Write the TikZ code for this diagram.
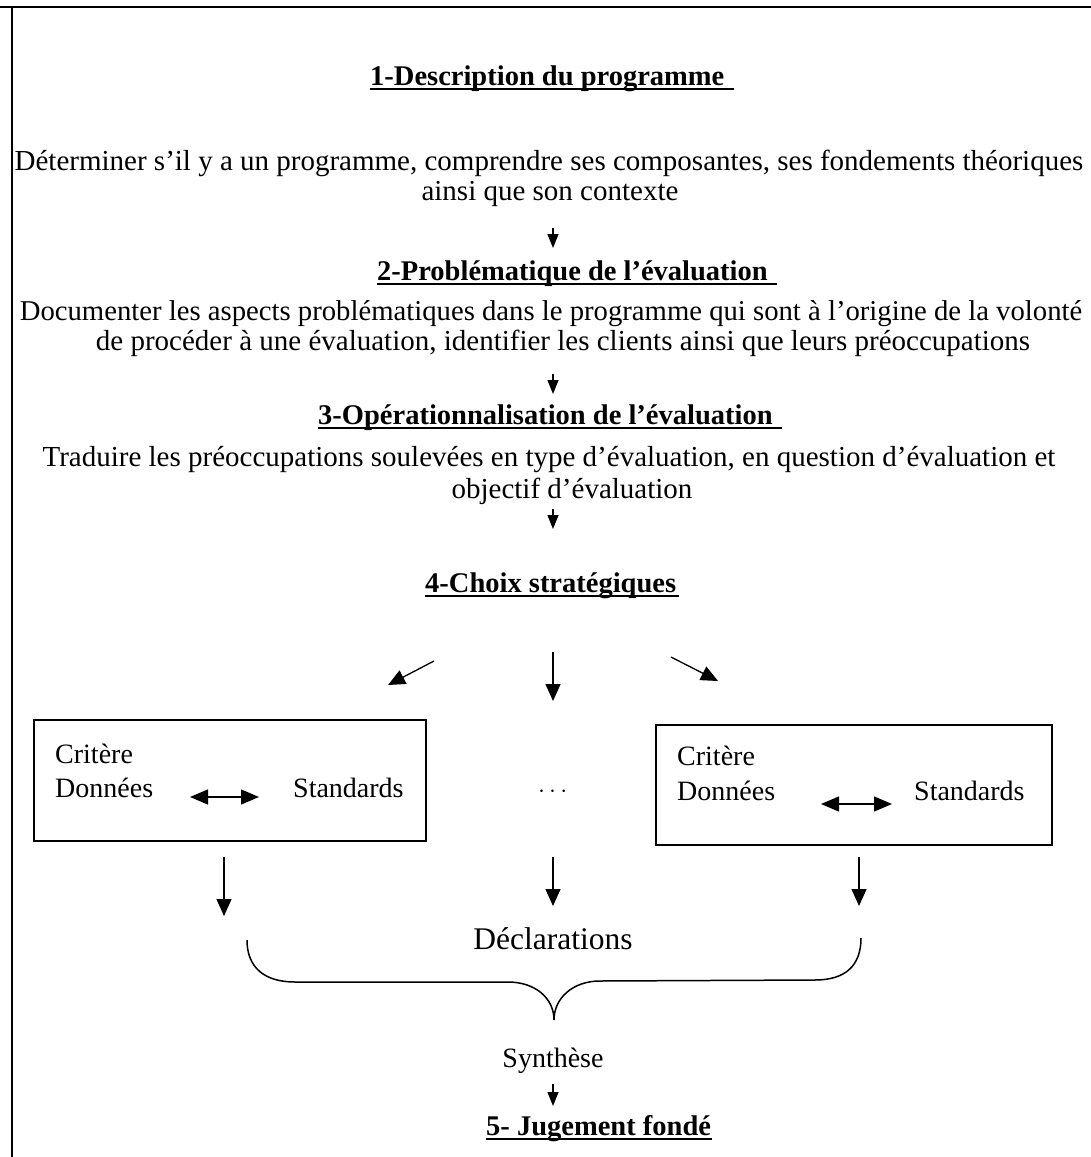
\documentclass[tikz,border=0pt]{standalone}
\usepackage{fontspec}
\setmainfont{Liberation Serif}
\usetikzlibrary{arrows.meta,calc}
\begin{document}
\begin{tikzpicture}[x=1pt,y=-1pt,
  body/.style={inner sep=0pt,anchor=base,font=\fontsize{29}{34}\selectfont},
  boxtxt/.style={inner sep=0pt,anchor=base west,font=\fontsize{28}{32}\selectfont},
  big/.style={inner sep=0pt,anchor=base,font=\fontsize{31.5}{36}\selectfont},
  ttl/.style={inner sep=0pt,anchor=base west,font=\fontsize{28.5}{32}\selectfont\bfseries},
  ul/.style={line width=2.6pt},
  sarr/.style={line width=1.3pt,-{Triangle[width=11pt,length=14pt]}},
  arr/.style={line width=1.3pt,-{Triangle[width=15pt,length=17pt]}},
  darr/.style={line width=1.4pt,{Triangle[width=15pt,length=18pt]}-{Triangle[width=15pt,length=18pt]}},
  frame/.style={line width=1.5pt},
  cbox/.style={draw,line width=1.8pt,inner sep=0pt,anchor=north west}]
\useasboundingbox (0,0) rectangle (1091,1157);
% frame
\draw[frame] (0,7) -- (1091,7);
\draw[frame] (12,7) -- (12,1157);

% 1
\node[ttl] (t1) at (370,85) {1-Description du programme};
\draw[ul] ($(t1.base west)+(0,4)$) -- ($(t1.base east)+(9,4)$);
\node[body] (p1a) at (549,170) {Déterminer s’il y a un programme, comprendre ses composantes, ses fondements théoriques};
\node[body] (p1b) at (550,200) {ainsi que son contexte};
\coordinate (a1s) at (553,228);
\coordinate (a1e) at (553,248);
\draw[sarr] (a1s) -- (a1e);

% 2
\node[ttl] (t2) at (377,280) {2-Problématique de l’évaluation};
\draw[ul] ($(t2.base west)+(0,4)$) -- ($(t2.base east)+(9,4)$);
\node[body,font=\fontsize{28.7}{34}\selectfont] (p2a) at (551,320) {Documenter les aspects problématiques dans le programme qui sont à l’origine de la volonté};
\node[body] (p2b) at (563,350) {de procéder à une évaluation, identifier les clients ainsi que leurs préoccupations};
\coordinate (a2s) at (553,374);
\coordinate (a2e) at (553,394);
\draw[sarr] (a2s) -- (a2e);

% 3
\node[ttl] (t3) at (318,424) {3-Opérationnalisation de l’évaluation};
\draw[ul] ($(t3.base west)+(0,4)$) -- ($(t3.base east)+(9,4)$);
\node[body] (p3a) at (549,466) {Traduire les préoccupations soulevées en type d’évaluation, en question d’évaluation et};
\node[body] (p3b) at (572,498) {objectif d’évaluation};
\coordinate (a3s) at (553,509);
\coordinate (a3e) at (553,529);
\draw[sarr] (a3s) -- (a3e);

% 4
\node[ttl] (t4) at (425,592) {4-Choix stratégiques};
\draw[ul] ($(t4.base west)+(0,4)$) -- ($(t4.base east)+(3,4)$);

\coordinate (dl1) at (434,661);
\coordinate (dl2) at (388,685);
\coordinate (dc1) at (553,652);
\coordinate (dc2) at (553,701);
\coordinate (dr1) at (671,657);
\coordinate (dr2) at (718,681);
\draw[arr] (dl1) -- (dl2);
\draw[arr] (dc1) -- (dc2);
\draw[arr] (dr1) -- (dr2);

% boxes
\node[cbox,minimum width=392pt,minimum height=121pt] (b1) at (33,719) {};
\node[boxtxt] (c1) at (55,763) {Critère};
\node[boxtxt] (d1) at (55,797) {Données};
\node[boxtxt] (s1) at (293,797) {Standards};
\coordinate (x1a) at (190,797);
\coordinate (x1b) at (259,797);
\draw[darr] (x1a) -- (x1b);

\node[boxtxt] (dots) at (538,797) {$\cdots$};

\node[cbox,minimum width=396pt,minimum height=120pt] (b2) at (655,724) {};
\node[boxtxt] (c2) at (677,765) {Critère};
\node[boxtxt] (d2) at (677,800) {Données};
\node[boxtxt] (s2) at (914,800) {Standards};
\coordinate (x2a) at (821,804);
\coordinate (x2b) at (892,804);
\draw[darr] (x2a) -- (x2b);

% bottom arrows
\coordinate (bl1) at (224,857);
\coordinate (bl2) at (224,916);
\coordinate (bc1) at (553,857);
\coordinate (bc2) at (553,906);
\coordinate (br1) at (859,857);
\coordinate (br2) at (859,906);
\draw[arr] (bl1) -- (bl2);
\draw[arr] (bc1) -- (bc2);
\draw[arr] (br1) -- (br2);

\node[big] (decl) at (553,949) {Déclarations};

% brace
\coordinate (brL) at (247,940);
\coordinate (brT) at (554,1020);
\coordinate (brR) at (861,938);
\draw[line width=1.5pt] (brL) .. controls (247,968) and (265,982) .. (295,982)
  -- (508,982) .. controls (535,982) and (554,998) .. (brT)
  .. controls (554,998) and (573,981) .. (600,981)
  -- (815,980) .. controls (845,980) and (861,966) .. (brR);

\node[body,font=\fontsize{28}{32}\selectfont] (syn) at (553,1067) {Synthèse};
\coordinate (a5s) at (553,1084);
\coordinate (a5e) at (553,1106);
\draw[sarr] (a5s) -- (a5e);

\node[ttl] (t5) at (486,1135) {5- Jugement fondé};
\draw[ul] ($(t5.base west)+(0,4)$) -- ($(t5.base east)+(1,4)$);
\end{tikzpicture}
\end{document}
